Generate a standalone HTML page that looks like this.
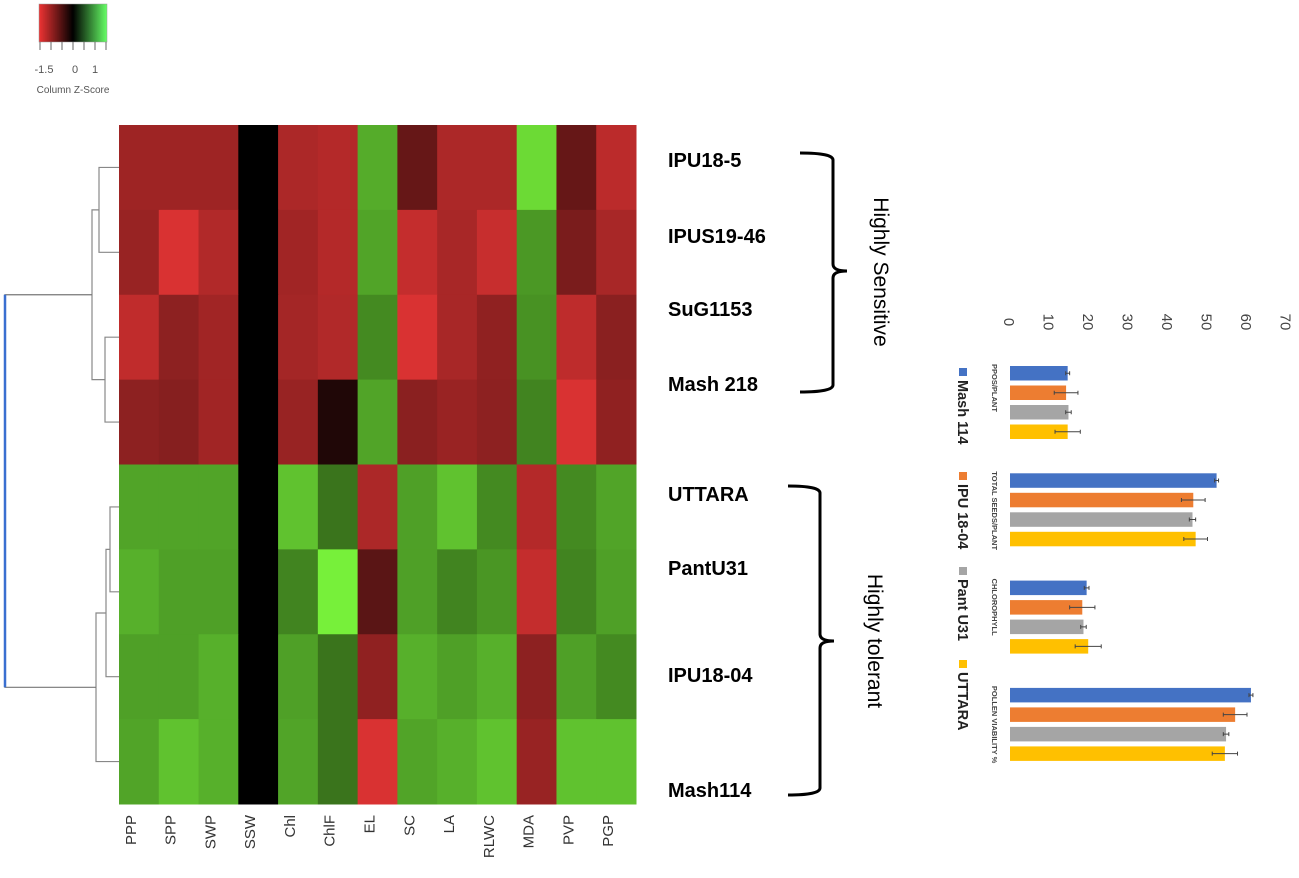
<!DOCTYPE html>
<html><head><meta charset="utf-8">
<style>
body{margin:0;background:#fff;width:1299px;height:878px;overflow:hidden;font-family:"Liberation Sans",sans-serif;}
svg{display:block}
</style></head>
<body>
<svg id="chart" width="1299" height="878" viewBox="0 0 1299 878" xmlns="http://www.w3.org/2000/svg">
<defs>
<linearGradient id="keygrad" x1="0" x2="1" y1="0" y2="0">
<stop offset="0" stop-color="#e33"/><stop offset="0.5" stop-color="#000"/><stop offset="1" stop-color="#6f6"/>
</linearGradient>
</defs>
<g>
<rect x="39" y="4" width="68" height="38" fill="url(#keygrad)" stroke="#999" stroke-width="0.5"/>
<path d="M40 42v8M51 42v8M62 42v8M73 42v8M84 42v8M95 42v8M106 42v8" stroke="#666" stroke-width="1"/>
<text x="44" y="73" font-size="11" fill="#555" text-anchor="middle">-1.5</text>
<text x="75" y="73" font-size="11" fill="#555" text-anchor="middle">0</text>
<text x="95" y="73" font-size="11" fill="#555" text-anchor="middle">1</text>
<text x="73" y="93" font-size="10" fill="#555" text-anchor="middle">Column Z-Score</text>
</g>
<g id="heat"></g>
<g id="dendro"></g>
<g id="rowlabels"></g>
<g fill="none" stroke="#000" stroke-width="3">
<path d="M800 153 Q833 153 833 160 L833 264 Q833 271 847 271 M847 271 Q833 271 833 278 L833 385 Q833 392 800 392"/>
<path d="M788 486 Q820 486 820 493 L820 634 Q820 641 834 641 M834 641 Q820 641 820 648 L820 788 Q820 795 788 795"/>
</g>
<text transform="translate(874,272) rotate(90)" font-size="21" text-anchor="middle" fill="#000">Highly Sensitive</text>
<text transform="translate(868,641) rotate(90)" font-size="21" text-anchor="middle" fill="#000">Highly tolerant</text>
<g id="bars"></g>
</svg>
<script>
const cols=["PPP","SPP","SWP","SSW","Chl","ChlF","EL","SC","LA","RLWC","MDA","PVP","PGP"];
const rows=["IPU18-5","IPUS19-46","SuG1153","Mash 218","UTTARA","PantU31","IPU18-04","Mash114"];
const z0=[-1.07,-1.07,-1.07,0,-1.17,-1.22,0.86,-0.69,-1.17,-1.17,1.09,-0.69,-1.27];
const z1=[-1.03,-1.47,-1.2,0,-1.09,-1.22,0.82,-1.33,-1.14,-1.35,0.76,-0.83,-1.14];
const z2=[-1.3,-0.96,-1.09,0,-1.11,-1.2,0.69,-1.47,-1.14,-0.98,0.73,-1.29,-0.94];
const z3=[-0.96,-0.91,-1.09,0,-1.03,-0.22,0.82,-0.94,-1.04,-0.96,0.66,-1.47,-0.98];
const z4=[0.82,0.82,0.82,0,0.97,0.58,-1.17,0.8,0.97,0.69,-1.22,0.69,0.82];
const z5=[0.88,0.8,0.8,0,0.66,1.2,-0.61,0.8,0.66,0.75,-1.33,0.66,0.8];
const z6=[0.8,0.8,0.88,0,0.8,0.58,-0.98,0.88,0.8,0.88,-0.96,0.8,0.69];
const z7=[0.82,0.97,0.88,0,0.82,0.58,-1.47,0.82,0.88,0.97,-1.03,0.97,0.97];
const zrows=[z0,z1,z2,z3,z4,z5,z6,z7];
// bar chart data
const barCats=["PPOS/PLANT","TOTAL SEEDS/PLANT","CHLOROPHYLL","POLLEN VIABILITY %"];
const seriesNames=["Mash 114","IPU 18-04","Pant U31","UTTARA"];
const sMash114=[14.6,52.3,19.4,61.0];
const sIPU1804=[14.2,46.4,18.3,57.0];
const sPantU31=[14.8,46.2,18.6,54.7];
const sUTTARA=[14.6,47.0,19.8,54.4];
const eMash114=[0.5,0.5,0.6,0.5];
const eIPU1804=[3,3,3.2,3];
const ePantU31=[0.7,0.8,0.7,0.7];
const eUTTARA=[3.2,3,3.3,3.2];
const valueTicks=[0,10,20,30,40,50,60,70];

const NS="http://www.w3.org/2000/svg";
function mk(tag,attrs,parent){const e=document.createElementNS(NS,tag);for(const k in attrs)e.setAttribute(k,attrs[k]);parent.appendChild(e);return e;}
function color(v){
  if(v<0){const t=Math.min(1,-v/1.5);return `rgb(${Math.round(221*t)},${Math.round(51*t)},${Math.round(51*t)})`;}
  const t=Math.min(1,v/1.2);return `rgb(${Math.round(119*t)},${Math.round(240*t)},${Math.round(58*t)})`;
}
const HX=119,HY=125,HW=517,HH=679;
const cw=HW/cols.length,rh=HH/rows.length;
const heat=document.getElementById('heat');
zrows.forEach((r,i)=>r.forEach((v,j)=>{
  const c=mk('rect',{x:HX+j*cw,y:HY+i*rh,width:cw+0.5,height:rh+0.5,fill:color(v)},heat);
  
  
}));
cols.forEach((c,j)=>{
  const x=HX+(j+0.5)*cw-3, y=815;
  const t=mk('text',{transform:`translate(${x},${y}) rotate(-90)`,'font-size':15,fill:'#333','text-anchor':'end'},heat);
  t.textContent=c;
  
  
});
// row labels
const labelY=[160,236,309,384,494,568,675,790];
const rl=document.getElementById('rowlabels');
rows.forEach((r,i)=>{
  const t=mk('text',{x:668,y:labelY[i]+7,'font-size':20,'font-weight':'bold',fill:'#000'},rl);
  t.textContent=r;
  
  
});
// dendrogram
const d=document.getElementById('dendro');
const rc=i=>HY+(i+0.5)*rh;
function link(y1,y2,x,xl1,xl2,col){mk('path',{d:`M${xl1} ${y1}H${x}V${y2}H${xl2}`,fill:'none',stroke:col||'#888','stroke-width':1.2},d);}
const L=HX;
link(rc(0),rc(1),99,L,L);
link(rc(2),rc(3),105,L,L);
const t1=(rc(0)+rc(1))/2,t2=(rc(2)+rc(3))/2;
link(t1,t2,92,99,105);
link(rc(4),rc(5),110,L,L);
const b1=(rc(4)+rc(5))/2;
link(b1,rc(6),106,110,L);
const b2=(b1+rc(6))/2;
link(b2,rc(7),96,106,L);
const topM=(t1+t2)/2,botM=(b2+rc(7))/2;
mk('path',{d:`M92 ${topM}H5V${botM}H96`,fill:'none',stroke:'#777','stroke-width':1.2},d);
mk('path',{d:`M5 ${topM}V${botM}`,stroke:'#3a6fd0','stroke-width':2.5},d);
// bar chart
const bars=document.getElementById('bars');
const X0=1010,PU=3.95;
const xv=v=>X0+v*PU;
valueTicks.forEach(v=>{
  const t=mk('text',{transform:`translate(${xv(v)-6},${322}) rotate(90)`,'font-size':15,fill:'#444','text-anchor':'middle'},bars);
  t.textContent=v;
  
  
});
const series=[sMash114,sIPU1804,sPantU31,sUTTARA];
const errs=[eMash114,eIPU1804,ePantU31,eUTTARA];
const colors=["#4472c4","#ed7d31","#a5a5a5","#ffc000"];
const G0=366,GS=107.3,BS=19.5,BH=14.5;
barCats.forEach((c,gi)=>{
  const gy=G0+gi*GS;
  const t=mk('text',{transform:`translate(${992},${gy-2}) rotate(90)`,'font-size':7.5,'font-weight':'bold',fill:'#444'},bars);
  t.textContent=c;
  
  
  series.forEach((s,si)=>{
    const y=gy+si*BS;
    const b=mk('rect',{x:X0,y:y,width:xv(s[gi])-X0,height:BH,fill:colors[si]},bars);
    
    
    const e=errs[si][gi],cy=y+BH/2;
    const eb=mk('path',{d:`M${xv(s[gi]-e)} ${cy}H${xv(s[gi]+e)}M${xv(s[gi]-e)} ${cy-2}v4M${xv(s[gi]+e)} ${cy-2}v4`,stroke:'#444','stroke-width':1},bars);
    
    
  });
});
const legY=[368,472,567,660];
seriesNames.forEach((n,i)=>{
  const r=mk('rect',{x:959,y:legY[i],width:8,height:8,fill:colors[i]},bars);
  
  
  const t=mk('text',{transform:`translate(${958},${legY[i]+12}) rotate(90)`,'font-size':14.5,'font-weight':'bold',fill:'#222'},bars);
  t.textContent=n;
  
  
});
</script>
</body></html>
